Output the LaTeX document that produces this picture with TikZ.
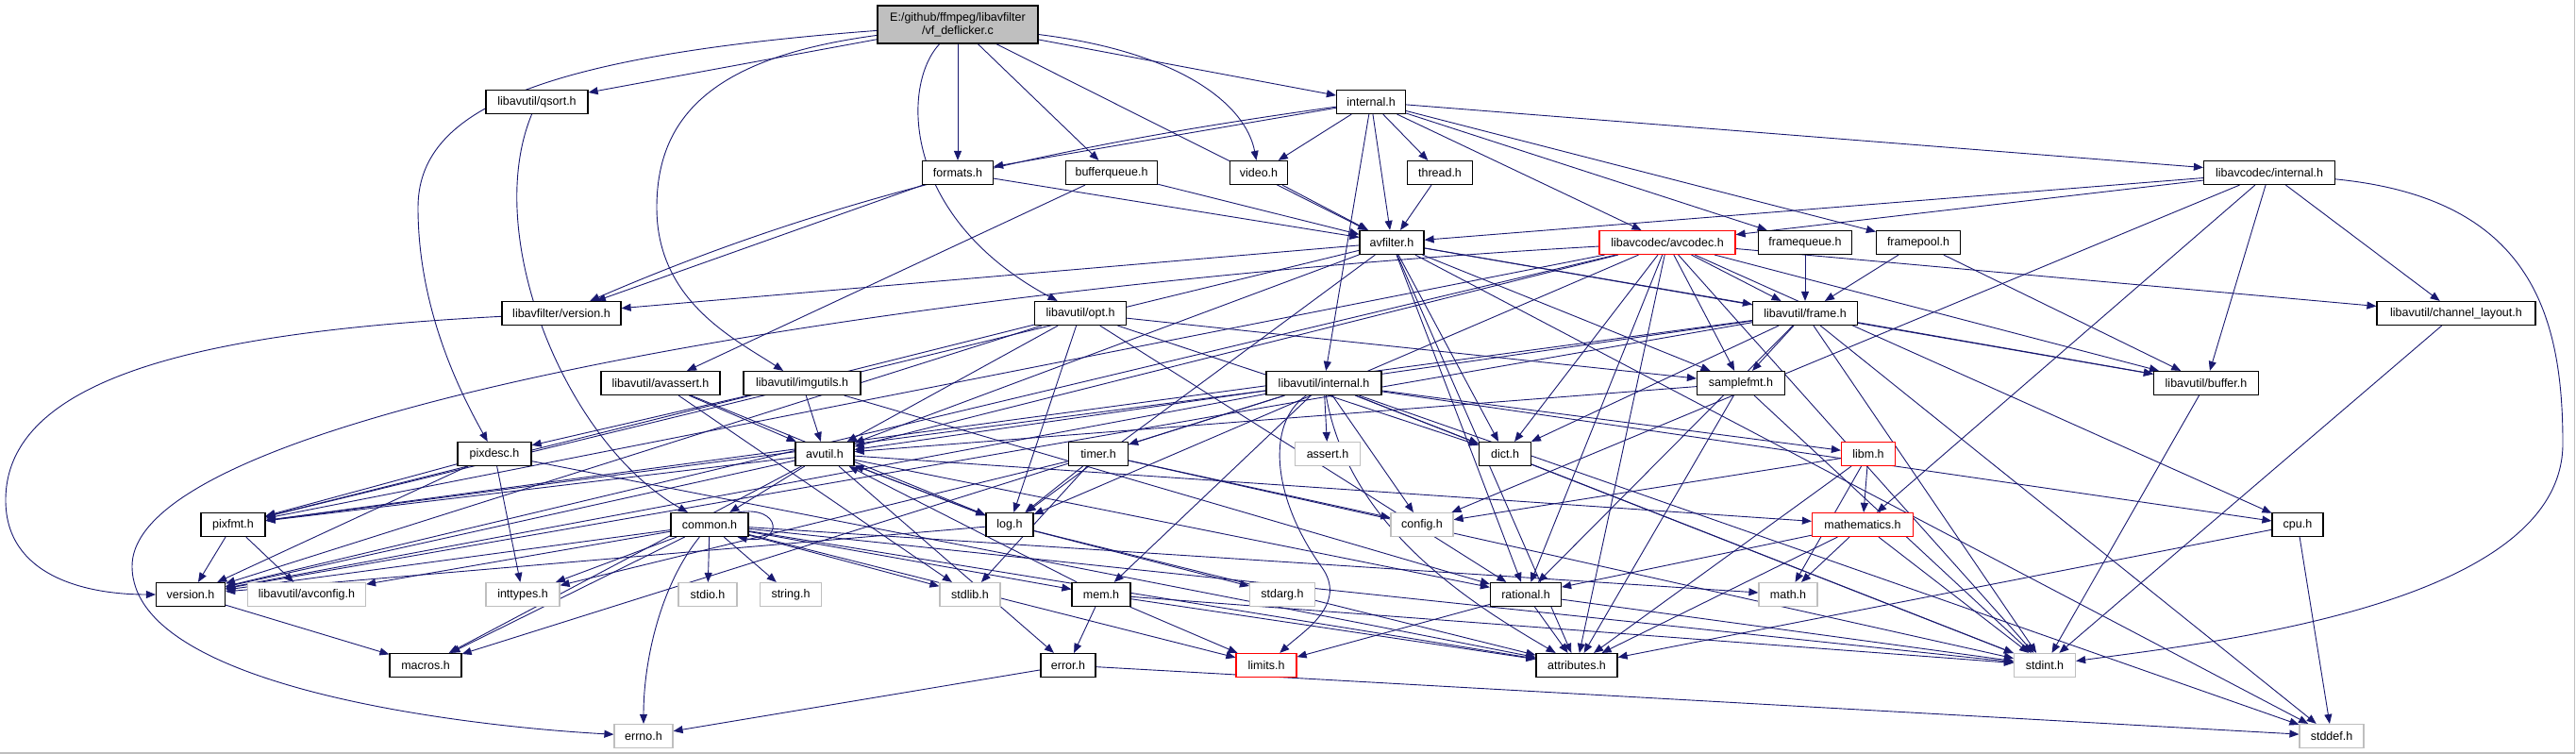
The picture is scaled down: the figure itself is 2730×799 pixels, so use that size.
\documentclass[tikz,border=0pt]{standalone}
\usepackage{fontspec}
\setmainfont{Liberation Sans}
\usetikzlibrary{arrows.meta,backgrounds}
\definecolor{edgecolor}{RGB}{25,25,112}
\definecolor{sysgray}{RGB}{191,191,191}

\begin{document}
\begin{tikzpicture}[x=1pt,y=-1pt,
  box/.style={draw=black, line width=1.2pt, fill=white, minimum height=25pt,
    inner sep=0pt, font=\fontsize{12.5}{14}\selectfont},
  hdr/.style={box},
  syshdr/.style={box, draw=sysgray},
  trunc/.style={box, draw=red},
  rootnode/.style={box, fill=sysgray, minimum height=40pt, align=center},
  incl/.style={draw=edgecolor, line width=0.9pt, -{Triangle[length=10pt,width=8pt]}}
]
\useasboundingbox (0,0) rectangle (2730,799);

% ================= ROW 0 / 1 =================
\node[rootnode, minimum width=170pt] (root) at (1015,26)
  {E:/github/ffmpeg/libavfilter\\/vf\_deflicker.c};
\node[hdr, minimum width=108pt] (qsort) at (569,108) {libavutil/qsort.h};
\node[hdr, minimum width=73pt] (internal) at (1453,108) {internal.h};

% ================= ROW 2 =================
\node[hdr, minimum width=75pt] (formats) at (1015,183) {formats.h};
\node[hdr, minimum width=97pt] (bufq) at (1178,183) {bufferqueue.h};
\node[hdr, minimum width=61pt] (video) at (1334,183) {video.h};
\node[hdr, minimum width=69pt] (thread) at (1526,183) {thread.h};
\node[hdr, minimum width=139pt] (lcint) at (2405,183) {libavcodec/internal.h};

% ================= ROW 3 =================
\node[hdr, minimum width=68pt] (avfilter) at (1475,257) {avfilter.h};
\node[trunc, minimum width=144pt] (avcodec) at (1767,257) {libavcodec/avcodec.h};
\node[hdr, minimum width=99pt] (fqueue) at (1913,257) {framequeue.h};
\node[hdr, minimum width=89pt] (fpool) at (2033,257) {framepool.h};

% ================= ROW 4 =================
\node[hdr, minimum width=126pt] (lfver) at (595,332) {libavfilter/version.h};
\node[hdr, minimum width=97pt] (opt) at (1145,332) {libavutil/opt.h};
\node[hdr, minimum width=111pt] (frame) at (1913,332) {libavutil/frame.h};
\node[hdr, minimum width=168pt] (chl) at (2603,332) {libavutil/channel\_layout.h};

% ================= ROW 5 =================
\node[hdr, minimum width=126pt] (avassert) at (700,406) {libavutil/avassert.h};
\node[hdr, minimum width=124pt] (imgutils) at (850,406) {libavutil/imgutils.h};
\node[hdr, minimum width=122pt] (luint) at (1403,406) {libavutil/internal.h};
\node[hdr, minimum width=93pt] (sfmt) at (1845,406) {samplefmt.h};
\node[hdr, minimum width=111pt] (buffer) at (2338,406) {libavutil/buffer.h};

% ================= ROW 6 =================
\node[hdr, minimum width=78pt] (pixdesc) at (524,481) {pixdesc.h};
\node[hdr, minimum width=62pt] (avutil) at (874,481) {avutil.h};
\node[hdr, minimum width=63pt] (timer) at (1164,481) {timer.h};
\node[syshdr, minimum width=69pt] (assert) at (1407,481) {assert.h};
\node[hdr, minimum width=55pt] (dict) at (1595,481) {dict.h};
\node[trunc, minimum width=57pt] (libm) at (1980,481) {libm.h};

% ================= ROW 7 =================
\node[hdr, minimum width=68pt] (pixfmt) at (247,556) {pixfmt.h};
\node[hdr, minimum width=82pt] (common) at (752,556) {common.h};
\node[hdr, minimum width=50pt] (log) at (1070,556) {log.h};
\node[syshdr, minimum width=66pt] (config) at (1507,556) {config.h};
\node[trunc, minimum width=107pt] (mathem) at (1974,556) {mathematics.h};
\node[hdr, minimum width=54pt] (cpu) at (2435,556) {cpu.h};

% ================= ROW 8 =================
\node[hdr, minimum width=73pt] (version) at (202,630) {version.h};
\node[syshdr, minimum width=125pt] (avconfig) at (325,630) {libavutil/avconfig.h};
\node[syshdr, minimum width=78pt] (inttypes) at (554,630) {inttypes.h};
\node[syshdr, minimum width=62pt] (stdio) at (750,630) {stdio.h};
\node[syshdr, minimum width=65pt] (string) at (838,630) {string.h};
\node[syshdr, minimum width=64pt] (stdlib) at (1028,630) {stdlib.h};
\node[hdr, minimum width=62pt] (mem) at (1167,630) {mem.h};
\node[syshdr, minimum width=69pt] (stdarg) at (1359,630) {stdarg.h};
\node[hdr, minimum width=75pt] (rational) at (1617,630) {rational.h};
\node[syshdr, minimum width=62pt] (mathh) at (1895,630) {math.h};

% ================= ROW 9 / 10 =================
\node[hdr, minimum width=76pt] (macros) at (451,705) {macros.h};
\node[hdr, minimum width=58pt] (error) at (1132,705) {error.h};
\node[trunc, minimum width=64pt] (limits) at (1342,705) {limits.h};
\node[hdr, minimum width=86pt] (attributes) at (1671,705) {attributes.h};
\node[syshdr, minimum width=65pt] (stdint) at (2167,705) {stdint.h};
\node[syshdr, minimum width=62pt] (errno) at (682,780) {errno.h};
\node[syshdr, minimum width=68pt] (stddef) at (2471,780) {stddef.h};

\begin{scope}[on background layer]
% ================= STRAIGHT INCLUDES =================
\foreach \a/\b in {
  root/qsort, root/formats, root/bufq, root/avfilter, root/internal,
  internal/formats, internal/video, internal/thread, internal/avfilter,
  internal/luint, internal/avcodec, internal/fqueue, internal/fpool, internal/lcint,
  formats/avfilter, formats/lfver, bufq/avfilter, bufq/avassert,
  video/avfilter, thread/avfilter,
  lcint/avfilter, lcint/avcodec, lcint/buffer, lcint/chl, lcint/mathem, lcint/config,
  avfilter/lfver, avfilter/stddef, avfilter/attributes, avfilter/avutil, avfilter/buffer,
  avfilter/dict, avfilter/frame, avfilter/log, avfilter/sfmt, avfilter/pixfmt, avfilter/rational,
  avcodec/sfmt, avcodec/attributes, avcodec/avutil, avcodec/buffer, avcodec/cpu, avcodec/chl,
  avcodec/dict, avcodec/frame, avcodec/log, avcodec/pixfmt, avcodec/rational, avcodec/version,
  avcodec/stdint,
  fqueue/frame, fpool/frame, fpool/buffer,
  frame/stddef, frame/stdint, frame/avutil, frame/buffer, frame/dict, frame/rational,
  frame/sfmt, frame/pixfmt, frame/version,
  chl/stdint,
  opt/rational, opt/avutil, opt/dict, opt/log, opt/pixfmt, opt/sfmt, opt/version,
  avassert/stdlib, avassert/avutil, avassert/log,
  imgutils/avutil, imgutils/pixdesc, imgutils/rational,
  luint/stdint, luint/stddef, luint/assert, luint/config,
  luint/timer, luint/cpu, luint/dict, luint/macros, luint/mem, luint/pixfmt, luint/version,
  luint/libm,
  sfmt/stdint, sfmt/attributes, sfmt/avutil,
  buffer/stdint, dict/stdint,
  timer/config, timer/inttypes, timer/stdlib, timer/log, timer/stdint,
  log/stdarg, log/avutil, log/attributes, log/version,
  libm/mathh, libm/config, libm/attributes, libm/mathem,
  mathem/stdint, mathem/mathh, mathem/attributes, mathem/rational,
  rational/stdint, rational/limits, rational/attributes,
  cpu/stddef, cpu/attributes,
  common/inttypes, common/limits, common/mathh, common/stdint, common/stdio,
  common/stdlib, common/string, common/attributes, common/macros, common/version,
  common/avconfig, common/mem,
  avutil/common, avutil/error, avutil/rational, avutil/version, avutil/macros,
  avutil/mathem, avutil/log, avutil/pixfmt,
  pixfmt/avconfig, pixfmt/version,
  pixdesc/inttypes, pixdesc/attributes, pixdesc/pixfmt, pixdesc/version,
  version/macros,
  mem/limits, mem/stdint, mem/attributes, mem/error, mem/avutil,
  error/errno, error/stddef}
  \draw[incl] (\a) -- (\b);

% ================= CURVED INCLUDES =================
\draw[incl] (root) .. controls (560,60) and (443,120) .. (443,220)
  .. controls (443,330) and (490,420) .. (pixdesc);
\draw[incl] (root) .. controls (760,60) and (696,120) .. (696,220)
  .. controls (696,320) and (780,360) .. (imgutils);
\draw[incl] (root) .. controls (955,90) and (955,230) .. (opt);
\draw[incl] (root) .. controls (1250,55) and (1320,110) .. (video);
\draw[incl] (internal) .. controls (1150,150) and (900,200) .. (lfver);
\draw[incl] (lfver) .. controls (250,350) and (6,390) .. (6,530)
  .. controls (6,610) and (90,630) .. (version);
\draw[incl] (lcint) .. controls (2680,210) and (2716,330) .. (2716,470)
  .. controls (2716,640) and (2350,680) .. (stdint);
\draw[incl] (avcodec) .. controls (1000,300) and (140,430) .. (140,600)
  .. controls (140,730) and (500,770) .. (errno);
\draw[incl] (qsort) .. controls (510,250) and (600,470) .. (common);
\draw[incl] (common) .. controls (700,620) and (682,700) .. (errno);
\draw[incl] (luint) .. controls (1340,450) and (1350,530) .. (1400,600)
  .. controls (1430,640) and (1380,670) .. (limits);
\draw[incl] (luint) .. controls (1430,560) and (1560,640) .. (attributes);
\draw[incl] ([xshift=-12pt]common.north east) .. controls (830,535) and (830,578)
  .. ([xshift=-12pt]common.south east);
\end{scope}

% ================= FRAME =================
\draw[sysgray, line width=1.5pt] (0,798) -- (2728.5,798) -- (2728.5,0);

\end{tikzpicture}
\end{document}
